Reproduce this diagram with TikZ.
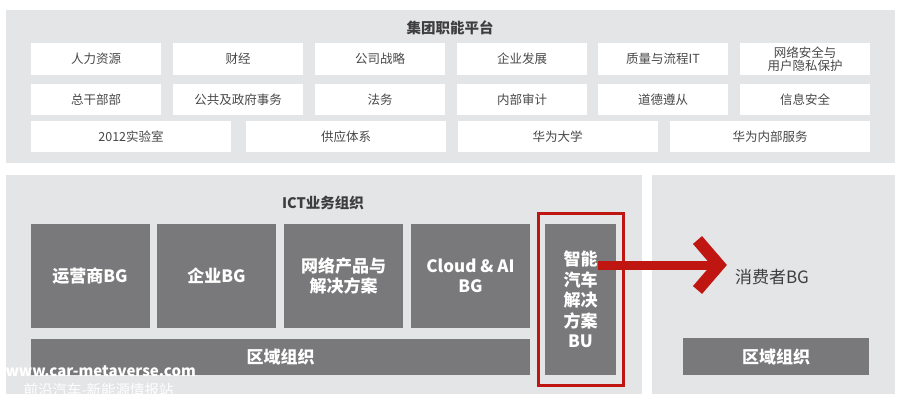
\documentclass[tikz,border=0pt]{standalone}
\usepackage{fontspec}
\setmainfont{Noto Sans CJK SC}
\usepackage{xcolor}
\definecolor{panel-gray}{RGB}{228,229,231}
\definecolor{dark-gray}{RGB}{121,121,123}
\definecolor{box-text}{RGB}{72,72,74}
\definecolor{title-text}{RGB}{62,62,64}
\definecolor{hw-red}{RGB}{192,22,18}
\tikzset{
    panel/.style = {fill=panel-gray, rectangle, inner sep=0pt},
    panel-title/.style = {text=title-text, font=\fontsize{14.5}{16}\selectfont\bfseries},
    white-box/.style = {fill=white, text=box-text, rectangle, inner sep=0pt, minimum width=130pt, minimum height=32pt, align=center, font=\fontsize{12.5}{13.5}\selectfont},
    wide-box/.style = {white-box, minimum width=200pt, minimum height=31pt},
    dark-box/.style = {fill=dark-gray, text=white, rectangle, inner sep=0pt, minimum width=119pt, minimum height=104pt, align=center, font=\fontsize{17}{20.5}\selectfont\bfseries},
    red-frame/.style = {draw=hw-red, line width=3pt, rectangle, inner sep=0pt},
    red-arrow/.style = {draw=hw-red},
    watermark/.style = {text=white, font=\fontsize{15}{17}\selectfont\bfseries, anchor=west},
}
\begin{document}
\begin{tikzpicture}[x=1pt,y=-1pt]
\useasboundingbox (0,0) rectangle (900,401);
% group platform
\node [panel, minimum width=889pt, minimum height=153pt] (platform) at (450.5,86.5) {};
\node [panel-title] (platform-title) at (450,28) {集团职能平台};
\node [white-box] (hr) at (96,59) {人力资源};
\node [white-box] (finance) at (238,59) {财经};
\node [white-box] (strategy) at (380,59) {公司战略};
\node [white-box] (develop) at (522,59) {企业发展};
\node [white-box] (quality) at (663,59) {质量与流程IT};
\node [white-box] (privacy) at (805,59) {网络安全与\\用户隐私保护};
\node [white-box, minimum height=31pt] (office) at (96,99.5) {总干部部};
\node [white-box, minimum height=31pt] (public) at (238,99.5) {公共及政府事务};
\node [white-box, minimum height=31pt] (legal) at (380,99.5) {法务};
\node [white-box, minimum height=31pt] (audit) at (522,99.5) {内部审计};
\node [white-box, minimum height=31pt] (ethics) at (663,99.5) {道德遵从};
\node [white-box, minimum height=31pt] (infosec) at (805,99.5) {信息安全};
\node [wide-box] (lab) at (131,136.5) {2012实验室};
\node [wide-box] (supply) at (346,136.5) {供应体系};
\node [wide-box] (univ) at (557.5,136.5) {华为大学};
\node [wide-box] (service) at (770,136.5) {华为内部服务};
% ICT business
\node [panel, minimum width=636pt, minimum height=219pt] (ict) at (324,284.5) {};
\node [panel-title] (ict-title) at (323,203) {ICT业务组织};
\node [dark-box] (carrier) at (90,276) {运营商BG};
\node [dark-box] (enterprise) at (216.5,276) {企业BG};
\node [dark-box] (network) at (343.5,276) {网络产品与\\解决方案};
\node [dark-box] (cloud) at (470.5,276) {Cloud \& AI\\BG};
\node [dark-box, minimum width=499pt, minimum height=36pt] (region) at (280.5,357) {区域组织};
\node [dark-box, minimum width=71pt, minimum height=151pt] (car-bu) at (580.5,299.5) {智能\\汽车\\解决\\方案\\BU};
\node [red-frame, minimum width=85pt, minimum height=172pt] (car-frame) at (580.5,299) {};
% consumer
\node [panel, minimum width=243pt, minimum height=219pt] (consumer) at (773.5,284.5) {};
\node [text=title-text, font=\fontsize{17}{20}\selectfont] (consumer-bg) at (772,277) {消费者BG};
\node [dark-box, minimum width=186pt, minimum height=37pt] (consumer-region) at (776,356.5) {区域组织};
% red arrow
\coordinate (arrow-start) at (598,265);
\coordinate (arrow-tip) at (719,265);
\coordinate (barb-top) at (697.5,240);
\coordinate (barb-bottom) at (697.5,290);
\draw [red-arrow, line width=9pt] (arrow-start) -- (arrow-tip);
\draw [red-arrow, line width=12pt, miter limit=4] (barb-top) -- (arrow-tip) -- (barb-bottom);
% watermark
\node [watermark] (site) at (2,371) {www.car-metaverse.com};
\node [watermark, font=\fontsize{14.5}{17}\selectfont] (site-name) at (20,390) {前沿汽车-新能源情报站};
\end{tikzpicture}
\end{document}
